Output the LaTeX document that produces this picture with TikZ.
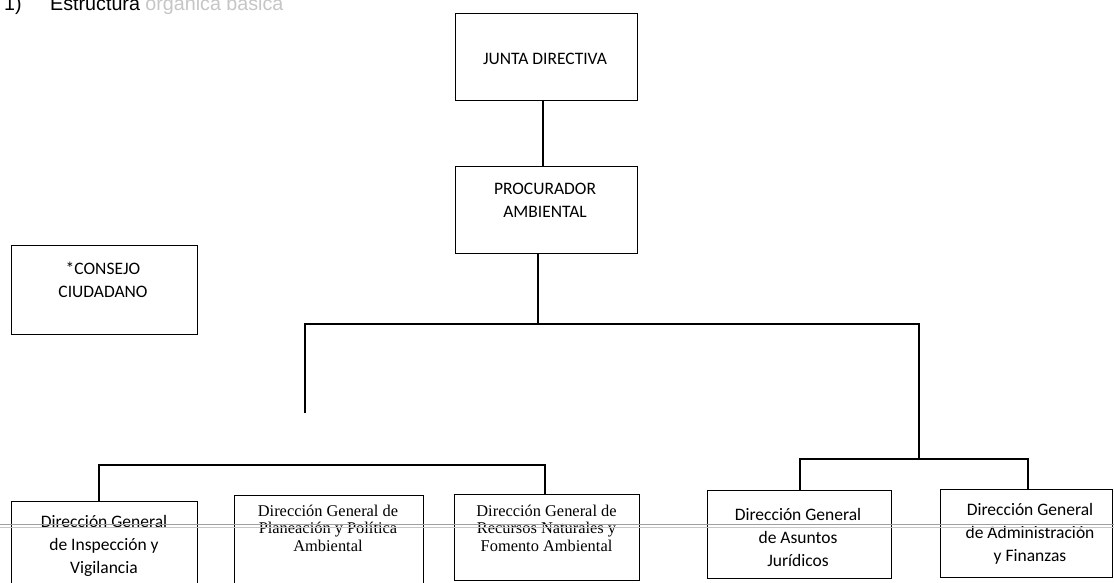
\documentclass[tikz,border=0pt]{standalone}
\usepackage{fontspec}
\setmainfont{Carlito}
\newfontfamily\serifont{Liberation Serif}
\newfontfamily\arialfont{Liberation Sans}
\begin{document}
\begin{tikzpicture}[x=1pt,y=-1pt,
  box/.style={draw, line width=1.3pt, inner sep=0pt, anchor=north west},
  lbl/.style={align=center, font=\fontsize{17.5}{23}\selectfont, inner sep=0pt},
  slbl/.style={align=center, font=\serifont\fontsize{16.4}{17.5}\selectfont, inner sep=0pt},
  conn/.style={line width=1.3pt},
  scan/.style={line width=1.1pt}]
\clip (0,0) rectangle (1114,582);
\fill[white] (0,0) rectangle (1114,582);

% title (cut at the top of the page)
\node[anchor=base west, inner sep=0pt, font=\arialfont\fontsize{19.7}{20}\selectfont] (num) at (4,10) {1)};
\node[anchor=base west, inner sep=0pt, font=\arialfont\fontsize{19.7}{20}\selectfont] (title) at (50,10) {Estructura \textcolor{gray!45}{orgánica básica}};

% boxes
\node[box, minimum width=182pt, minimum height=87pt] (junta) at (455,13) {};
\node[lbl] (juntat) at (545,59) {JUNTA DIRECTIVA};
\node[box, minimum width=182pt, minimum height=87pt] (proc) at (455,166) {};
\node[lbl] (proct) at (545,200) {PROCURADOR\\AMBIENTAL};
\node[box, minimum width=186pt, minimum height=89pt] (cons) at (11,245) {};
\node[lbl] (const) at (103,280) {*CONSEJO\\CIUDADANO};

\node[box, minimum width=186pt, minimum height=100pt] (b1) at (11,501) {};
\node[lbl] (b1t) at (104,546) {Dirección General\\de Inspección y\\Vigilancia};
\node[box, minimum width=189pt, minimum height=100pt] (b2) at (234,495) {};
\node[slbl] (b2t) at (328,528) {Dirección General de\\Planeación y Política\\Ambiental};
\node[box, minimum width=185pt, minimum height=86pt] (b3) at (454,494) {};
\node[slbl] (b3t) at (546.5,528) {Dirección General de\\Recursos Naturales y\\Fomento Ambiental};
\node[box, minimum width=184pt, minimum height=88pt] (b4) at (707,490) {};
\node[lbl] (b4t) at (798,537) {Dirección General\\de Asuntos\\Jurídicos};
\node[box, minimum width=172pt, minimum height=88pt] (b5) at (940,489) {};
\node[lbl] (b5t) at (1030,534) {Dirección General\\de Administración\\y Finanzas};

% connector points
\coordinate (jp) at (543,0);
\coordinate (m) at (538,324);
\coordinate (mL) at (305,324);
\coordinate (mR) at (919,324);
\coordinate (dL) at (305,413);
\coordinate (rJ) at (919,459);
\coordinate (rL) at (800,459);
\coordinate (rR) at (1028,459);
\coordinate (lL) at (99,465);
\coordinate (lR) at (545,465);

% connectors
\draw[conn] (jp |- junta.south) -- (jp |- proc.north);
\draw[conn] (m |- proc.south) -- (m);
\draw[conn] (dL) -- (mL) -- (mR) -- (rJ);
\draw[conn] (rL |- b4.north) -- (rL) -- (rR) -- (rR |- b5.north);
\draw[conn] (lL |- b1.north) -- (lL) -- (lR) -- (lR |- b3.north);

% scanner streak across the page
\draw[scan, gray!75] (0,524.5) -- (1114,524.5);
\draw[scan, gray!45] (0,527.5) -- (1114,527.5);
\end{tikzpicture}
\end{document}
